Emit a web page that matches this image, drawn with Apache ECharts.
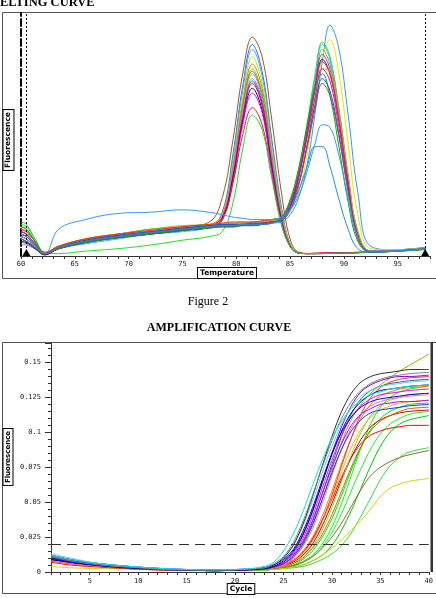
<!DOCTYPE html>
<html>
<head>
<meta charset="utf-8">
<script src="https://cdn.jsdelivr.net/npm/echarts@6/dist/echarts.min.js"></script>
<style>
html, body { margin: 0; padding: 0; background: #fff; }
#main { width: 436px; height: 598px; }
</style>
</head>
<body>
<div id="main"></div>
<script>
// melting curve: temperatures sampled, one row per well (-dF/dT, arbitrary units)
var meltTemps = [60, 60.5, 61.3, 62.2, 63.5, 66, 69, 72, 75,
	77.5, 78.7, 79.7, 80.6, 81.5, 82.4, 83.3, 84.2, 85, 85.8,
	86.6, 87.3, 88, 88.7, 89.5, 90.4, 91.3, 92.5, 95, 97.6];

var meltCurves = [
	// product peaking near 81.5
	[8, 7, 4, 1, 4, 7, 9, 10, 12, 14, 24, 48, 75, 90, 82, 56, 26, 7, 1.5, 1, 1, 1.2, 1.2, 1.3, 1.3, 1.5, 1.8, 2.5, 3.5],
	[10, 9, 5, 0.5, 3, 6, 8, 9.5, 11, 12, 18, 42, 70, 87, 76, 48, 20, 5, 1.2, 1, 1, 1, 1.2, 1.2, 1.3, 1.5, 1.5, 2.2, 3],
	[6, 5, 3, 1, 3, 5, 7, 9, 10, 12, 17, 40, 68, 85, 74, 46, 19, 5, 1.5, 1, 1.2, 1.2, 1, 1.2, 1.4, 1.5, 1.8, 2.5, 3.2],
	[9, 8, 5, 1.5, 4, 7, 9, 11, 12, 13, 17, 38, 65, 82, 71, 44, 18, 5, 1.5, 1.2, 1, 1.2, 1.3, 1.2, 1.4, 1.6, 1.7, 2.4, 3],
	[7, 6, 4, 1, 3, 6, 8, 10, 11, 12, 16, 37, 63, 79, 69, 42, 17, 4.5, 1.3, 1, 1, 1.2, 1.2, 1.3, 1.3, 1.4, 1.6, 2.3, 3],
	[11, 10, 6, 1.5, 4, 7, 9, 11, 12.5, 13, 17, 36, 62, 77, 67, 41, 17, 5, 1.5, 1, 1.2, 1.3, 1.2, 1.3, 1.4, 1.5, 1.7, 2.5, 3.2],
	[12, 11, 6, 1, 3.5, 6, 8, 9, 10.5, 12, 16, 35, 61, 76, 66, 40, 16, 4.5, 1.2, 1, 1, 1, 1.2, 1.2, 1.3, 1.4, 1.6, 2.2, 2.8],
	[5, 4.5, 3, 0.5, 3, 5.5, 7.5, 9, 11, 12, 16, 35, 60, 75, 65, 40, 16, 4.5, 1.3, 1, 1.1, 1.2, 1.2, 1.3, 1.3, 1.4, 1.6, 2.3, 3],
	[8, 7, 4, 1, 4, 6.5, 8.5, 10, 11.5, 12.5, 16, 34, 58, 73, 64, 39, 16, 4.5, 1.3, 1, 1, 1.1, 1.2, 1.3, 1.3, 1.5, 1.7, 2.4, 3.2],
	[9, 8, 5, 1.2, 3.5, 6, 8, 10, 11, 12, 15, 33, 57, 72, 63, 38, 15, 4, 1.2, 1, 1, 1, 1.1, 1.2, 1.3, 1.4, 1.6, 2.2, 2.9],
	[10, 9, 5, 1, 3, 6, 8, 9.5, 11, 12.5, 16, 33, 57, 71, 62, 37, 15, 4, 1.2, 1, 1, 1.2, 1.2, 1.3, 1.3, 1.4, 1.6, 2.3, 3],
	[7, 6, 3.5, 0.8, 3, 6, 8, 9.5, 11, 12, 15, 32, 55, 69, 60, 36, 14, 4, 1.2, 1, 1, 1, 1.2, 1.2, 1.3, 1.4, 1.5, 2.2, 2.8],
	[8, 7, 4, 1, 3.5, 6.5, 8.5, 10, 11.5, 12.5, 15, 31, 54, 67, 59, 35, 14, 4, 1.2, 1, 1, 1.1, 1.2, 1.3, 1.3, 1.4, 1.6, 2.3, 3],
	[9, 8, 4.5, 1, 3.5, 6, 8, 9.5, 11, 12, 15, 30, 50, 61, 54, 33, 13, 4, 1.2, 1, 1, 1.1, 1.2, 1.3, 1.3, 1.4, 1.6, 2.3, 3],
	[13, 12, 7, 1.5, 1, 2, 3, 4.5, 6.5, 8, 10, 22, 44, 58, 52, 32, 13, 4, 1.2, 1, 1, 1, 1.1, 1.2, 1.2, 1.3, 1.5, 2, 2.6],
	// product peaking near 88
	[7, 6, 3.5, 1, 3.5, 6, 8, 10, 11, 12, 12.5, 13, 13, 13, 13, 13.5, 14, 17, 24, 38, 58, 80, 95, 86, 58, 26, 4, 2.5, 3.5],
	[9, 8, 5, 1.5, 4, 7, 9, 10.5, 12, 13, 13.5, 13.5, 14, 14, 14, 14.5, 15, 18, 26, 42, 62, 82, 89, 76, 46, 17, 3, 2.5, 3.2],
	[14, 13, 7, 1, 4, 7, 9, 11, 12, 13, 13, 13.5, 13.5, 14, 14, 15, 16, 23, 36, 55, 74, 88, 82, 62, 33, 10, 2, 2.2, 3],
	[10, 9, 5, 1, 3.5, 6, 8.5, 10, 11.5, 12.5, 13, 13, 13.5, 13.5, 14, 15, 16, 22, 35, 54, 73, 87, 81, 61, 33, 10, 2, 2.2, 3],
	[8, 7, 4, 1, 3, 6, 8, 10, 11, 12, 12.5, 13, 13, 13.5, 13.5, 14.5, 15.5, 22, 34, 53, 71, 85, 79, 60, 32, 9, 2, 2.2, 3],
	[9, 8, 4.5, 0.8, 3.5, 6.5, 8.5, 10, 11.5, 12.5, 13, 13, 13.5, 13.5, 14, 14.5, 15.5, 21, 33, 52, 70, 83, 77, 58, 31, 9, 2, 2.2, 3],
	[6, 5.5, 3, 0.5, 3, 5.5, 7.5, 9, 10.5, 11.5, 12, 12, 12.5, 12.5, 13, 14, 14.5, 20, 33, 51, 68, 81, 75, 57, 30, 8.5, 1.8, 2.1, 2.9],
	[11, 10, 6, 1.5, 4, 7, 9, 10.5, 12, 13, 13.5, 14, 14, 14, 14.5, 15, 16, 22, 34, 51, 68, 80, 75, 57, 30, 8.5, 2, 2.2, 3],
	[8, 7, 4, 1, 3.5, 6.5, 8.5, 10, 11.5, 12.5, 13, 13, 13.5, 13.5, 14, 14.5, 15, 19, 29, 46, 64, 77, 76, 60, 33, 10, 2, 2.2, 3],
	[10, 9, 5, 1, 3.5, 6, 8, 9.5, 11, 12, 12.5, 12.5, 13, 13, 13.5, 14, 15, 20, 32, 49, 65, 77, 72, 54, 29, 8, 1.8, 2.1, 2.9],
	[12, 11, 6, 1, 3, 5.5, 7.5, 9, 10.5, 11.5, 12, 12, 12.5, 12.5, 13, 13.5, 16, 23, 36, 54, 69, 75, 66, 46, 22, 6, 1.6, 2, 2.8],
	[9, 8, 4.5, 1, 3.5, 6.5, 8.5, 10, 11.5, 12.5, 13, 13, 13, 13.5, 13.5, 14, 15, 20, 30, 46, 62, 73, 68, 51, 27, 7.5, 1.6, 2.1, 2.9],
	[7, 6, 3.5, 0.8, 3, 6, 8, 9.5, 11, 12, 12.5, 12.5, 13, 13, 13.5, 14, 14.5, 19, 29, 45, 60, 71, 66, 50, 26, 7, 1.6, 2, 2.8],
	[8, 7, 4, 1, 11, 15, 17.5, 18, 19, 18, 17, 16, 15.5, 15, 15, 15, 16, 19, 25, 35, 46, 54, 53, 42, 24, 8, 2, 2.2, 3],
	[9, 8, 4.5, 1, 3.5, 6, 8, 9.5, 11, 12, 12.5, 12.5, 13, 13, 13, 13.5, 15, 19, 27, 37, 45, 45, 37, 24, 11, 3, 1.6, 2, 2.8]
];

var meltColors = ['#a0522d', '#1e6fff', '#4aa8ff', '#d8d800', '#9a9a00', '#ff8c00', '#00c000', '#ff66cc',
	'#00d0d0', '#8a2be2', '#ff0000', '#000080', '#ff00ff', '#e02020', '#22dd22',
	'#3399ff', '#e6e600', '#33cc33', '#00e0e0', '#999900', '#9933ff', '#1a1a80', '#ff2020',
	'#ff9900', '#e000e0', '#00b000', '#0050ff', '#8b5a2b', '#3399ff', '#2288ee'];

var meltMarkers = [60.5, 97.55];

// amplification curve: cycles sampled, one row per well
var ampCycles = [1, 3, 6, 10, 14, 18, 21, 23, 24, 25, 26, 27, 28, 29, 30, 31, 32, 33, 34, 35, 36, 37, 38, 40];

var ampCurves = [
	[0.011, 0.008, 0.005, 0.003, 0.0015, 0.001, 0.0015, 0.0015, 0.002, 0.003, 0.005, 0.009, 0.015, 0.025, 0.038, 0.055, 0.073, 0.089, 0.102, 0.11, 0.115, 0.118, 0.12, 0.121],
	[0.01, 0.007, 0.005, 0.003, 0.0015, 0.001, 0.0015, 0.0015, 0.002, 0.003, 0.004, 0.007, 0.011, 0.018, 0.028, 0.042, 0.058, 0.074, 0.088, 0.099, 0.106, 0.11, 0.113, 0.115],
	[0.009, 0.007, 0.0045, 0.0025, 0.0015, 0.001, 0.001, 0.0015, 0.002, 0.0025, 0.0035, 0.005, 0.008, 0.012, 0.019, 0.03, 0.044, 0.06, 0.076, 0.09, 0.1, 0.106, 0.109, 0.112],
	[0.012, 0.009, 0.006, 0.0035, 0.002, 0.0015, 0.0015, 0.0015, 0.002, 0.0025, 0.003, 0.004, 0.006, 0.009, 0.013, 0.019, 0.028, 0.04, 0.053, 0.066, 0.076, 0.082, 0.086, 0.089],
	[0.01, 0.008, 0.005, 0.003, 0.0015, 0.001, 0.0015, 0.0015, 0.002, 0.003, 0.0045, 0.0075, 0.012, 0.02, 0.032, 0.049, 0.069, 0.089, 0.106, 0.118, 0.125, 0.129, 0.131, 0.133],
	[0.009, 0.007, 0.0045, 0.0025, 0.0015, 0.001, 0.0015, 0.0015, 0.002, 0.003, 0.0045, 0.007, 0.011, 0.017, 0.025, 0.035, 0.047, 0.059, 0.069, 0.075, 0.079, 0.082, 0.084, 0.087],
	[0.004, 0.003, 0.0025, 0.002, 0.0015, 0.001, 0.0015, 0.0015, 0.002, 0.0025, 0.0035, 0.005, 0.008, 0.012, 0.017, 0.023, 0.03, 0.037, 0.045, 0.054, 0.06, 0.063, 0.065, 0.067],
	[0.007, 0.005, 0.0035, 0.002, 0.001, 0.001, 0.0015, 0.002, 0.003, 0.005, 0.008, 0.014, 0.024, 0.037, 0.052, 0.068, 0.082, 0.092, 0.098, 0.101, 0.103, 0.104, 0.105, 0.105],
	[0.009, 0.007, 0.0045, 0.0025, 0.0015, 0.001, 0.0015, 0.002, 0.003, 0.005, 0.009, 0.015, 0.025, 0.04, 0.058, 0.078, 0.096, 0.11, 0.12, 0.126, 0.129, 0.131, 0.132, 0.133],
	[0.01, 0.007, 0.005, 0.003, 0.0015, 0.001, 0.0015, 0.002, 0.003, 0.0045, 0.008, 0.013, 0.022, 0.036, 0.053, 0.072, 0.089, 0.102, 0.111, 0.116, 0.119, 0.121, 0.122, 0.123],
	[0.008, 0.006, 0.004, 0.0025, 0.0015, 0.001, 0.0015, 0.002, 0.003, 0.004, 0.007, 0.012, 0.02, 0.033, 0.049, 0.066, 0.082, 0.095, 0.104, 0.109, 0.112, 0.114, 0.115, 0.116],
	[0.01, 0.008, 0.005, 0.003, 0.0015, 0.001, 0.0015, 0.002, 0.0025, 0.004, 0.006, 0.011, 0.018, 0.03, 0.046, 0.065, 0.084, 0.1, 0.112, 0.119, 0.123, 0.125, 0.127, 0.128],
	[0.009, 0.007, 0.0045, 0.0025, 0.0015, 0.001, 0.0015, 0.002, 0.0025, 0.0035, 0.006, 0.01, 0.017, 0.027, 0.041, 0.058, 0.075, 0.09, 0.101, 0.108, 0.112, 0.115, 0.117, 0.118],
	[0.009, 0.007, 0.0045, 0.0025, 0.0015, 0.001, 0.0015, 0.002, 0.003, 0.005, 0.008, 0.014, 0.023, 0.037, 0.055, 0.076, 0.096, 0.113, 0.125, 0.132, 0.136, 0.138, 0.139, 0.14],
	[0.011, 0.008, 0.005, 0.003, 0.0015, 0.001, 0.0015, 0.002, 0.003, 0.005, 0.01, 0.019, 0.033, 0.052, 0.073, 0.093, 0.109, 0.12, 0.128, 0.134, 0.139, 0.144, 0.148, 0.156],
	[0.008, 0.006, 0.004, 0.0025, 0.0015, 0.001, 0.0015, 0.002, 0.003, 0.005, 0.01, 0.018, 0.031, 0.049, 0.069, 0.088, 0.103, 0.113, 0.119, 0.122, 0.124, 0.125, 0.126, 0.127],
	[0.009, 0.007, 0.0045, 0.0025, 0.0015, 0.001, 0.0015, 0.002, 0.0035, 0.006, 0.011, 0.02, 0.034, 0.052, 0.071, 0.088, 0.101, 0.109, 0.114, 0.116, 0.117, 0.118, 0.119, 0.12],
	[0.012, 0.009, 0.006, 0.0035, 0.002, 0.0015, 0.002, 0.0025, 0.0035, 0.006, 0.011, 0.021, 0.036, 0.056, 0.077, 0.097, 0.113, 0.124, 0.13, 0.133, 0.135, 0.136, 0.137, 0.138],
	[0.012, 0.009, 0.006, 0.0035, 0.002, 0.0015, 0.002, 0.0025, 0.004, 0.006, 0.012, 0.022, 0.037, 0.056, 0.075, 0.092, 0.105, 0.113, 0.117, 0.12, 0.121, 0.122, 0.122, 0.123],
	[0.01, 0.007, 0.005, 0.003, 0.0015, 0.001, 0.0015, 0.0025, 0.004, 0.007, 0.013, 0.024, 0.04, 0.06, 0.08, 0.098, 0.111, 0.119, 0.124, 0.127, 0.128, 0.129, 0.13, 0.131],
	[0.011, 0.008, 0.005, 0.003, 0.0015, 0.001, 0.0015, 0.0025, 0.004, 0.007, 0.014, 0.026, 0.043, 0.064, 0.085, 0.104, 0.119, 0.129, 0.134, 0.137, 0.139, 0.14, 0.14, 0.141],
	[0.009, 0.007, 0.0045, 0.0025, 0.0015, 0.001, 0.0015, 0.0025, 0.004, 0.008, 0.015, 0.027, 0.044, 0.064, 0.084, 0.101, 0.114, 0.122, 0.127, 0.13, 0.131, 0.132, 0.133, 0.134],
	[0.01, 0.007, 0.005, 0.003, 0.0015, 0.001, 0.0015, 0.003, 0.005, 0.009, 0.016, 0.029, 0.046, 0.066, 0.085, 0.1, 0.111, 0.118, 0.122, 0.124, 0.125, 0.126, 0.127, 0.128],
	[0.013, 0.01, 0.006, 0.0035, 0.002, 0.0015, 0.002, 0.003, 0.005, 0.01, 0.019, 0.033, 0.051, 0.071, 0.09, 0.106, 0.118, 0.126, 0.13, 0.133, 0.134, 0.135, 0.136, 0.137],
	[0.01, 0.008, 0.005, 0.003, 0.0015, 0.001, 0.0015, 0.003, 0.005, 0.01, 0.019, 0.034, 0.054, 0.076, 0.097, 0.115, 0.128, 0.136, 0.14, 0.142, 0.143, 0.144, 0.145, 0.145],
	[0.011, 0.008, 0.005, 0.003, 0.0015, 0.0015, 0.002, 0.003, 0.006, 0.011, 0.021, 0.036, 0.055, 0.075, 0.094, 0.11, 0.122, 0.13, 0.135, 0.138, 0.14, 0.141, 0.142, 0.143],
	[0.012, 0.009, 0.006, 0.0035, 0.002, 0.0015, 0.002, 0.004, 0.007, 0.015, 0.027, 0.043, 0.062, 0.08, 0.096, 0.108, 0.117, 0.123, 0.127, 0.129, 0.131, 0.132, 0.133, 0.134]
];

var ampColors = ['#00e000', '#22ee22', '#00c800', '#33dd33', '#00ff00', '#996633', '#d4d400',
	'#ff0000', '#ff8000', '#ffb000', '#c00000', '#9acd32', '#cc6600', '#ff3030', '#a8a800',
	'#ff69b4', '#0040ff', '#008080', '#b000ff', '#ff00ff', '#8000ff', '#000080', '#0000ff',
	'#6cc8ff', '#303030', '#808080', '#00e5ee'];

var threshold = 0.0207;

var labelFont = 'DejaVu Sans Mono';

var myChart = echarts.init(document.getElementById('main'), null, {renderer: 'canvas'});

var series = [];
for (var i = 0; i < meltCurves.length; i++) {
	var pts = [];
	for (var j = 0; j < meltTemps.length; j++) {
		pts.push([meltTemps[j], meltCurves[i][j]]);
	}
	series.push({
		type: 'line',
		xAxisIndex: 0,
		yAxisIndex: 0,
		data: pts,
		smooth: 0.4,
		showSymbol: false,
		silent: true,
		lineStyle: {width: 1, color: meltColors[i]}
	});
}
// dotted limit lines and triangle markers of the melting window
series.push({
	type: 'line',
	xAxisIndex: 0,
	yAxisIndex: 0,
	data: [],
	markLine: {
		silent: true,
		symbol: 'none',
		label: {show: false},
		lineStyle: {color: '#000', width: 1, type: [2, 2]},
		data: meltMarkers.map(function (t) { return {xAxis: t}; })
	},
	markPoint: {
		silent: true,
		symbol: 'triangle',
		symbolSize: [8, 7],
		symbolOffset: [0, -3.5],
		itemStyle: {color: '#000'},
		label: {show: false},
		data: meltMarkers.map(function (t) { return {coord: [t, 0]}; })
	}
});

for (var i = 0; i < ampCurves.length; i++) {
	var pts = [];
	for (var j = 0; j < ampCycles.length; j++) {
		pts.push([ampCycles[j], ampCurves[i][j]]);
	}
	series.push({
		type: 'line',
		xAxisIndex: 1,
		yAxisIndex: 1,
		data: pts,
		smooth: 0.3,
		showSymbol: false,
		silent: true,
		lineStyle: {width: 1, color: ampColors[i]}
	});
}
series.push({
	type: 'line',
	xAxisIndex: 1,
	yAxisIndex: 1,
	data: [],
	markLine: {
		silent: true,
		symbol: 'none',
		label: {show: false},
		lineStyle: {color: '#333', width: 1, type: [10, 6]},
		data: [{yAxis: threshold}]
	}
});

function everyFifth(v) {
	return v % 5 === 0 ? String(v) : '';
}

var option = {
	animation: false,
	backgroundColor: '#fff',
	grid: [
		{left: 21, top: 13, width: 409, height: 243},
		{left: 51, top: 343, width: 379, height: 229}
	],
	xAxis: [
		{
			gridIndex: 0, type: 'value', min: 60, max: 98, interval: 1,
			axisLine: {lineStyle: {color: '#333', width: 1}},
			axisTick: {length: 3, lineStyle: {color: '#333'}},
			axisLabel: {formatter: everyFifth, fontSize: 7, fontFamily: labelFont, color: '#222', margin: 5},
			splitLine: {show: false}
		},
		{
			gridIndex: 1, type: 'value', min: 1, max: 40, interval: 1,
			axisLine: {lineStyle: {color: '#333', width: 1}},
			axisTick: {length: 3, lineStyle: {color: '#333'}},
			axisLabel: {formatter: everyFifth, fontSize: 7, fontFamily: labelFont, color: '#222', margin: 6},
			splitLine: {show: false}
		}
	],
	yAxis: [
		{
			gridIndex: 0, type: 'value', min: 0, max: 100,
			axisLine: {show: true, lineStyle: {color: '#000', width: 2, type: [7, 3]}},
			axisTick: {show: false},
			axisLabel: {show: false},
			splitLine: {show: false}
		},
		{
			gridIndex: 1, type: 'value', min: 0, max: 0.164, interval: 0.025,
			axisLine: {show: true, lineStyle: {color: '#333', width: 1}},
			axisTick: {show: true, length: 6, lineStyle: {color: '#333'}},
			minorTick: {show: true, splitNumber: 5, length: 3, lineStyle: {color: '#333'}},
			axisLabel: {fontSize: 7, fontFamily: labelFont, color: '#222', margin: 10, showMaxLabel: false},
			splitLine: {show: false}
		}
	],
	graphic: [
		{type: 'text', x: 0, y: 3, silent: true,
			style: {text: 'ELTING CURVE', font: 'bold 12.5px "Liberation Serif"', fill: '#000', textAlign: 'left', textVerticalAlign: 'middle'}},
		{type: 'polyline', silent: true,
			shape: {points: [[436, 12.5], [2.5, 12.5], [2.5, 278.5], [436, 278.5]]},
			style: {stroke: '#555', fill: null, lineWidth: 1}},
		{type: 'polyline', silent: true,
			shape: {points: [[436, 342.5], [2.5, 342.5], [2.5, 593.5], [436, 593.5]]},
			style: {stroke: '#555', fill: null, lineWidth: 1}},
		{type: 'rect', silent: true, shape: {x: 430.5, y: 342, width: 2.5, height: 230}, style: {fill: '#333'}},
		{type: 'text', x: 227, y: 273, silent: true,
			style: {text: 'Temperature', font: 'bold 7.5px "DejaVu Sans"', fill: '#000', textAlign: 'center', textVerticalAlign: 'middle',
				backgroundColor: '#fff', borderColor: '#000', borderWidth: 1, padding: [1, 2]}},
		{type: 'text', x: 8.5, y: 140, rotation: Math.PI / 2, silent: true,
			style: {text: 'Fluorescence', font: 'bold 7.5px "DejaVu Sans"', fill: '#000', textAlign: 'center', textVerticalAlign: 'middle',
				backgroundColor: '#fff', borderColor: '#000', borderWidth: 1, padding: [1, 2]}},
		{type: 'text', x: 208, y: 302, silent: true,
			style: {text: 'Figure 2', font: '12px "Liberation Serif"', fill: '#000', textAlign: 'center', textVerticalAlign: 'middle'}},
		{type: 'text', x: 219, y: 328, silent: true,
			style: {text: 'AMPLIFICATION CURVE', font: 'bold 12px "Liberation Serif"', fill: '#000', textAlign: 'center', textVerticalAlign: 'middle'}},
		{type: 'text', x: 241, y: 589, silent: true,
			style: {text: 'Cycle', font: 'bold 7.5px "DejaVu Sans"', fill: '#000', textAlign: 'center', textVerticalAlign: 'middle',
				backgroundColor: '#fff', borderColor: '#000', borderWidth: 1, padding: [1, 2]}},
		{type: 'text', x: 8, y: 457, rotation: Math.PI / 2, silent: true,
			style: {text: 'Fluorescence', font: 'bold 7px "DejaVu Sans"', fill: '#000', textAlign: 'center', textVerticalAlign: 'middle',
				backgroundColor: '#fff', borderColor: '#000', borderWidth: 1, padding: [1, 2]}}
	],
	series: series
};
myChart.setOption(option);
</script>
</body>
</html>
